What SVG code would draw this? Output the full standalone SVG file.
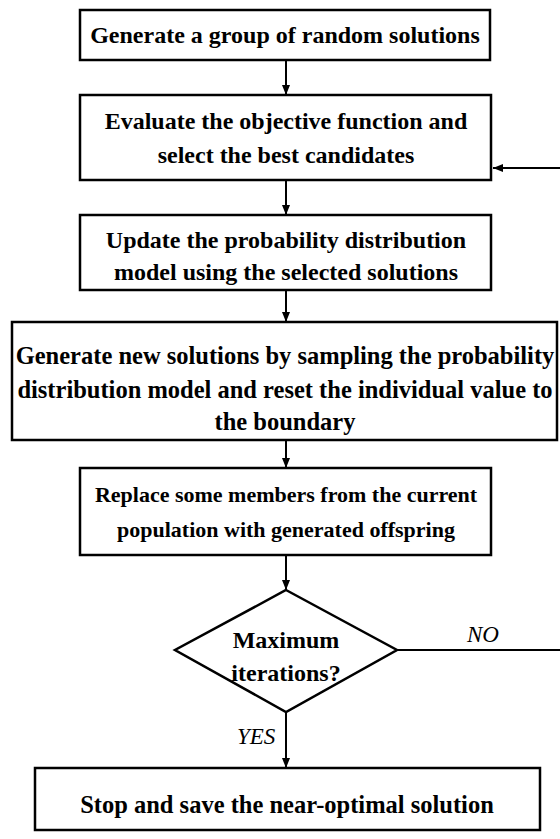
<svg xmlns="http://www.w3.org/2000/svg" width="560" height="839" viewBox="0 0 560 839">
<defs>
<marker id="ah" viewBox="0 0 10 10" refX="10" refY="5" markerWidth="10" markerHeight="10" markerUnits="userSpaceOnUse" orient="auto">
<path d="M0,1 L10,5 L0,9 z" fill="#000"/>
</marker>
<style>
.box{fill:#fff;stroke:#000;stroke-width:2.5}
.t{font-family:"Liberation Serif","Times New Roman",serif;font-weight:bold;font-size:24px;text-anchor:middle;fill:#000}
.s{font-size:22px}
.l{font-size:24.5px}
.i{font-family:"Liberation Serif","Times New Roman",serif;font-style:italic;font-size:23px;fill:#000}
.c{fill:none;stroke:#000;stroke-width:2}
</style>
</defs>
<rect width="560" height="839" fill="#fff"/>
<g id="connectors">
<line class="c" x1="286" y1="60" x2="286" y2="95" marker-end="url(#ah)"/>
<line class="c" x1="286" y1="180" x2="286" y2="215" marker-end="url(#ah)"/>
<line class="c" x1="286" y1="290" x2="286" y2="322" marker-end="url(#ah)"/>
<line class="c" x1="286" y1="440" x2="286" y2="468" marker-end="url(#ah)"/>
<line class="c" x1="286" y1="555" x2="286" y2="590" marker-end="url(#ah)"/>
<line class="c" x1="286" y1="712" x2="286" y2="768" marker-end="url(#ah)"/>
<path class="c" d="M397,650 H562 M562,168 H493" marker-end="url(#ah)"/>
<text class="i" x="467" y="642">NO</text>
<text class="i" x="237" y="744">YES</text>
</g>
<g id="n1">
<rect class="box" x="80" y="10" width="410" height="50"/>
<text class="t" x="285" y="43">Generate a group of random solutions</text>
</g>
<g id="n2">
<rect class="box" x="80" y="95" width="411" height="85"/>
<text class="t" x="286" y="129">Evaluate the objective function and</text>
<text class="t" x="286" y="163">select the best candidates</text>
</g>
<g id="n3">
<rect class="box" x="80" y="215" width="411" height="75"/>
<text class="t" x="286" y="248">Update the probability distribution</text>
<text class="t" x="286" y="280">model using the selected solutions</text>
</g>
<g id="n4">
<rect class="box" x="12" y="322" width="545" height="118"/>
<text class="t l" x="285" y="364">Generate new solutions by sampling the probability</text>
<text class="t l" x="285" y="398">distribution model and reset the individual value to</text>
<text class="t l" x="285" y="430">the boundary</text>
</g>
<g id="n5">
<rect class="box" x="80" y="468" width="411" height="87"/>
<text class="t s" x="286" y="502">Replace some members from the current</text>
<text class="t s" x="286" y="537">population with generated offspring</text>
</g>
<g id="n6">
<polygon class="box" points="286,590 397,650 286,712 175,650"/>
<text class="t" x="286" y="648">Maximum</text>
<text class="t" x="286" y="681">iterations?</text>
</g>
<g id="n7">
<rect class="box" x="35" y="768" width="505" height="62"/>
<text class="t l" x="287" y="813">Stop and save the near-optimal solution</text>
</g>
</svg>
